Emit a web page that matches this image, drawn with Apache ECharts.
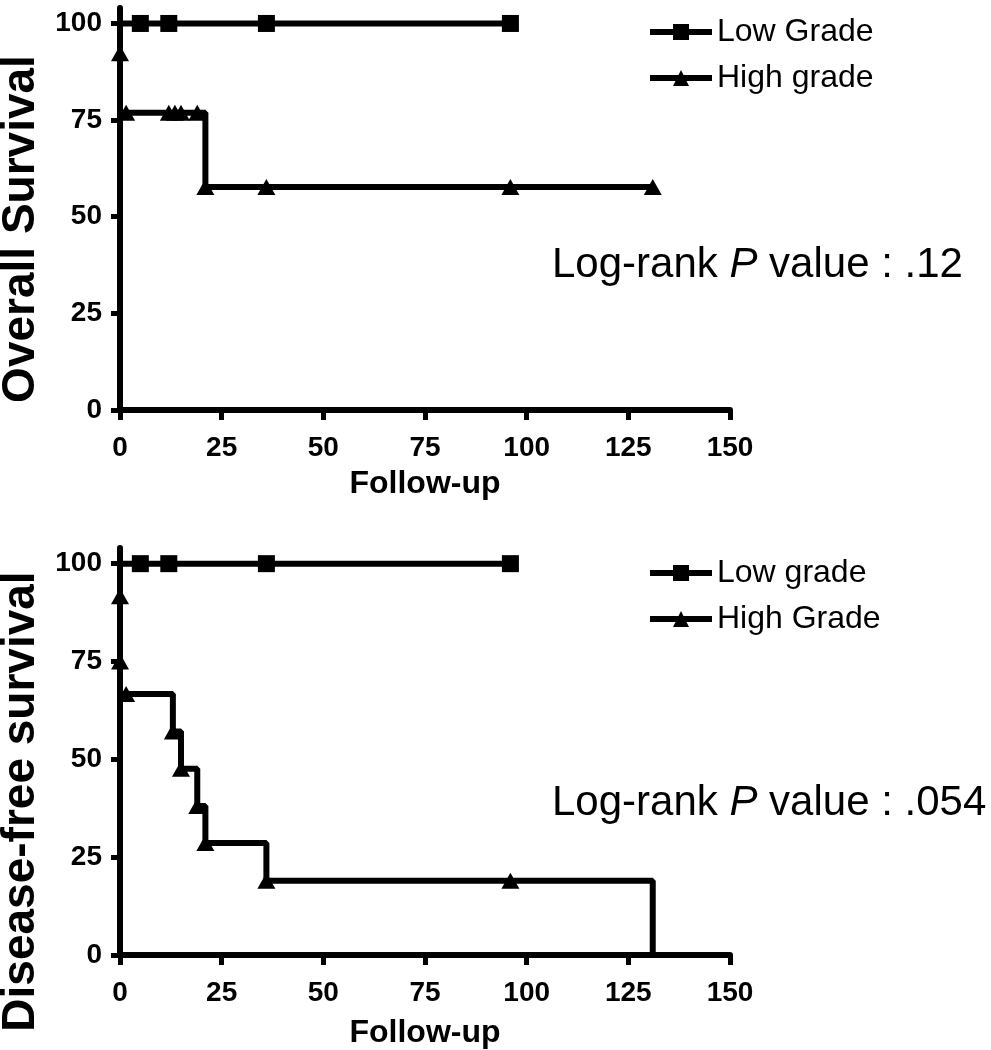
<!DOCTYPE html>
<html>
<head>
<meta charset="utf-8">
<script src="https://cdn.jsdelivr.net/npm/echarts@6/dist/echarts.min.js"></script>
<style>
  html, body { margin: 0; padding: 0; background: #fff; }
  #chart { width: 991px; height: 1050px; }
</style>
</head>
<body>
<div id="chart"></div>
<script>
// Overall survival
const osLowTime = [0, 5, 12, 36, 96]
const osLowSurv = [100, 100, 100, 100, 100]
const osLowMark = [0, 1, 1, 1, 1]
const osHighTime = [0, 0, 0, 1.5, 12, 13.5, 15, 19, 21, 36, 96, 131]
const osHighSurv = [100, 92.3, 76.9, 76.9, 76.9, 76.9, 76.9, 76.9, 57.7, 57.7, 57.7, 57.7]
const osHighMark = [0, 1, 0, 1, 1, 1, 1, 1, 1, 1, 1, 1]

// Disease-free survival
const dfsLowTime = [0, 5, 12, 36, 96]
const dfsLowSurv = [100, 100, 100, 100, 100]
const dfsLowMark = [0, 1, 1, 1, 1]
const dfsHighTime = [0, 0, 0, 0, 1.5, 13, 15, 19, 21, 36, 96, 131]
const dfsHighSurv = [100, 91.7, 75, 66.7, 66.7, 57.1, 47.6, 38.1, 28.6, 19.0, 19.0, 0]
const dfsHighMark = [0, 1, 1, 0, 1, 1, 1, 1, 1, 1, 1, 0]

const yTicks = [0, 25, 50, 75, 100]
const pTop = ".12"
const pBottom = ".054"

const FONT = "Liberation Sans, Arial, sans-serif"

function points(times, surv, marks, sym) {
  return times.map((t, i) => ({
    value: [t, surv[i]],
    symbol: marks[i] ? sym : "none"
  }))
}

function xAxis(grid, gap) {
  return {
    type: "value", gridIndex: grid, min: 0, max: 150, interval: 25,
    name: "Follow-up", nameLocation: "middle", nameGap: gap,
    nameTextStyle: {fontFamily: FONT, fontWeight: "bold", fontSize: 32, color: "#000"},
    axisLine: {show: true, lineStyle: {color: "#000", width: 6}},
    axisTick: {show: true, length: 10, lineStyle: {color: "#000", width: 5}},
    axisLabel: {fontFamily: FONT, fontWeight: "bold", fontSize: 28, color: "#000", margin: 24},
    splitLine: {show: false}
  }
}

function yAxis(grid, name, shift) {
  return {
    type: "value", gridIndex: grid, min: 0, max: 104, interval: 25,
    name: name, nameLocation: "middle", nameGap: 71, nameRotate: 90,
    nameTextStyle: {fontFamily: FONT, fontWeight: "bold", fontSize: 46, color: "#000",
      padding: [0, shift, 0, 0]},
    axisLine: {show: true, lineStyle: {color: "#000", width: 6}},
    axisTick: {show: true, length: 9, customValues: yTicks, lineStyle: {color: "#000", width: 5}},
    axisLabel: {fontFamily: FONT, fontWeight: "bold", fontSize: 28, color: "#000", margin: 18,
      customValues: yTicks},
    splitLine: {show: false}
  }
}

function line(name, grid, data, sym, size) {
  return {
    name: name, type: "line", xAxisIndex: grid, yAxisIndex: grid,
    step: "end", data: data, symbol: sym, symbolSize: size,
    showSymbol: true, showAllSymbol: true, clip: false,
    lineStyle: {color: "#000", width: 6},
    itemStyle: {color: "#000"},
    emphasis: {disabled: true},
    animation: false
  }
}

function legendAt(top, names) {
  return {
    data: names, orient: "vertical", left: 642, top: top,
    itemWidth: 62, itemHeight: 20, itemGap: 14,
    lineStyle: {width: 6, color: "#000"},
    textStyle: {fontFamily: FONT, fontSize: 32, color: "#000"}
  }
}

function pTitle(top, p) {
  return {
    text: "{n|Log-rank }{i|P}{n| value : " + p + "}",
    left: 547, top: top,
    textStyle: {
      rich: {
        n: {fontFamily: FONT, fontSize: 42, fontWeight: "normal", color: "#000"},
        i: {fontFamily: FONT, fontSize: 42, fontWeight: "normal", fontStyle: "italic", color: "#000"}
      }
    }
  }
}

const chart = echarts.init(document.getElementById("chart"), null, {renderer: "canvas"})
chart.setOption({
  backgroundColor: "#fff",
  animation: false,
  title: [pTitle(239, pTop), pTitle(777, pBottom)],
  legend: [legendAt(11, ["Low Grade", "High grade"]), legendAt(552, ["Low grade", "High Grade"])],
  grid: [
    {left: 120, top: 8, width: 610, height: 402, outerBoundsMode: "none"},
    {left: 120, top: 548, width: 610, height: 407, outerBoundsMode: "none"}
  ],
  xAxis: [xAxis(0, 58), xAxis(1, 62)],
  yAxis: [yAxis(0, "Overall Survival", 40), yAxis(1, "Disease-free survival", 100)],
  series: [
    line("Low Grade", 0, points(osLowTime, osLowSurv, osLowMark, "rect"), "rect", 17),
    line("High grade", 0, points(osHighTime, osHighSurv, osHighMark, "triangle"), "triangle", [18, 16]),
    line("Low grade", 1, points(dfsLowTime, dfsLowSurv, dfsLowMark, "rect"), "rect", 17),
    line("High Grade", 1, points(dfsHighTime, dfsHighSurv, dfsHighMark, "triangle"), "triangle", [18, 16])
  ]
})
</script>
</body>
</html>
